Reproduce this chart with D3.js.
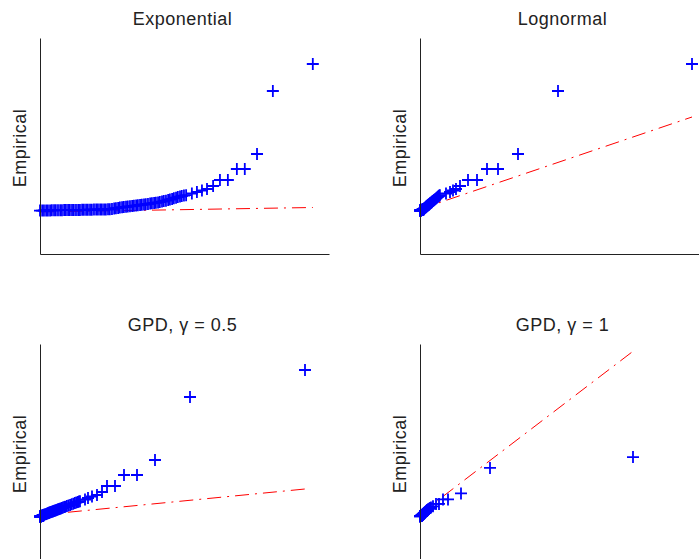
<!DOCTYPE html>
<html lang="en">
<head>
<meta charset="UTF-8">
<title>QQ plots</title>
<script src="https://d3js.org/d3.v7.min.js"></script>
<style>
    body { margin: 0; background: #fff; }
    svg { display: block; }
    .title, .ylabel {
        font-family: "Liberation Sans", Arial, sans-serif;
        font-size: 18px;
        letter-spacing: 0.5px;
        fill: #222;
    }
    .axis path { stroke: #222; }
</style>
</head>
<body>
<svg id="chart" width="699" height="559"></svg>
<script>
// sorted empirical sample (shared by all four panels)
const empirical = [
    0.04,0.04,0.05,0.05,0.06,0.06,0.07,0.07,0.07,0.08,0.08,0.08,0.09,0.09,0.09,0.10,0.10,0.10,
    0.11,0.11,0.11,0.12,0.12,0.12,0.13,0.13,0.13,0.14,0.14,0.14,0.15,0.15,0.16,0.16,0.17,0.17,
    0.21,0.24,0.28,0.31,0.35,0.37,0.40,0.42,0.44,0.47,0.49,0.52,0.55,0.57,0.60,0.62,0.65,0.68,
    0.71,0.74,0.77,0.80,0.82,0.86,0.90,0.94,0.99,1.03,1.09,1.15,1.21,1.27,1.33,1.39,1.44,1.50,
    1.54,1.58,
    1.75,1.90,2.05,2.20,2.50,3.10,3.10,4.20,4.20,5.70,12.0,14.7
];

// theoretical quantiles, one list per fitted distribution
const theoExponential = [
    0.00,0.06,0.11,0.17,0.22,0.28,0.33,0.39,0.44,0.50,0.56,0.61,0.67,0.72,0.78,0.83,0.89,0.94,
    1.00,1.06,1.11,1.17,1.22,1.28,1.33,1.39,1.44,1.50,1.56,1.61,1.67,1.72,1.78,1.83,1.89,1.94,
    2.00,2.06,2.11,2.17,2.22,2.28,2.33,2.39,2.44,2.50,2.56,2.61,2.67,2.72,2.78,2.83,2.89,2.94,
    3.00,3.06,3.11,3.17,3.22,3.28,3.33,3.39,3.44,3.50,3.56,3.61,3.67,3.72,3.78,3.83,3.89,3.94,
    4.00,4.06,
    4.22,4.36,4.50,4.64,4.81,5.00,5.22,5.47,5.69,6.03,6.47,7.58
];
const theoLognormal = [
    0.00,0.01,0.01,0.02,0.02,0.03,0.03,0.04,0.04,0.05,0.05,0.06,0.06,0.07,0.07,0.08,0.08,0.09,
    0.09,0.10,0.10,0.11,0.11,0.12,0.12,0.13,0.13,0.14,0.14,0.15,0.15,0.16,0.16,0.17,0.17,0.18,
    0.19,0.20,0.23,0.24,0.27,0.28,0.30,0.31,0.32,0.34,0.35,0.37,0.38,0.40,0.41,0.43,0.44,0.46,
    0.48,0.50,0.51,0.53,0.54,0.57,0.59,0.61,0.64,0.67,0.70,0.74,0.77,0.81,0.84,0.88,0.91,0.94,
    0.97,0.99,
    1.30,1.50,1.65,1.80,2.00,2.40,2.85,3.35,3.90,4.90,6.90,13.6
];
const theoGpdHalf = [
    0.00,0.01,0.02,0.03,0.04,0.05,0.06,0.07,0.08,0.09,0.10,0.11,0.12,0.13,0.14,0.15,0.16,0.17,
    0.18,0.19,0.20,0.21,0.22,0.23,0.24,0.25,0.26,0.27,0.28,0.29,0.30,0.31,0.32,0.33,0.34,0.35,
    0.36,0.43,0.54,0.62,0.72,0.78,0.86,0.91,0.96,1.04,1.10,1.18,1.26,1.31,1.39,1.44,1.52,1.60,
    1.68,1.76,1.84,1.92,1.98,2.08,2.19,2.30,2.43,2.53,2.69,2.85,3.01,3.17,3.33,3.49,3.63,3.79,
    3.89,4.00,
    4.50,4.80,5.20,5.70,6.20,6.70,7.50,8.40,9.70,11.5,15.0,26.5
];
const theoGpdOne = [
    0.00,0.02,0.04,0.06,0.09,0.11,0.13,0.15,0.17,0.19,0.21,0.24,0.26,0.28,0.30,0.32,0.34,0.36,
    0.39,0.41,0.43,0.45,0.47,0.49,0.51,0.54,0.56,0.58,0.60,0.62,0.64,0.66,0.69,0.71,0.73,0.75,
    0.85,0.91,1.00,1.06,1.15,1.19,1.25,1.29,1.34,1.40,1.44,1.51,1.57,1.61,1.68,1.72,1.78,1.84,
    1.91,1.97,2.04,2.10,2.14,2.23,2.31,2.40,2.50,2.59,2.71,2.84,2.97,3.09,3.22,3.35,3.45,3.58,
    3.67,3.75,
    4.00,4.50,5.00,5.50,6.50,8.00,9.50,11.5,14.0,20.5,35.0,106.5
];

// reference lines (theoretical, empirical) end points
const refExponential = [[0, -0.1], [7.58, 0.35]];
const refLognormal = [[0, 0.18], [13.6, 9.4]];
const refGpdHalf = [[0, 0.2], [26.5, 2.8]];
const refGpdOne = [[0, 0.6], [106.5, 40.9]];

const titles = ["Exponential", "Lognormal", "GPD, \u03b3 = 0.5", "GPD, \u03b3 = 1"];
const xMax = [8.03, 14.45, 28.9, 144.5];
const yLimits = [[-4.3, 17.3], [-4.3, 17.3], [-4.3, 17.3], [-10.8, 42.7]];

const panels = [
    { theo: theoExponential, ref: refExponential },
    { theo: theoLognormal, ref: refLognormal },
    { theo: theoGpdHalf, ref: refGpdHalf },
    { theo: theoGpdOne, ref: refGpdOne }
];

const svg = d3.select("#chart");
const lefts = [40, 420];
const tops = [38, 344];
const pw = 289, ph = 216;

panels.forEach((p, i) => {
    const g = svg.append("g")
        .attr("transform", `translate(${lefts[i % 2]},${tops[Math.floor(i / 2)]})`);

    const x = d3.scaleLinear().domain([0, xMax[i]]).range([0, pw]);
    const y = d3.scaleLinear().domain(yLimits[i]).range([ph, 0]);

    g.append("line")
        .attr("x1", x(p.ref[0][0])).attr("y1", y(p.ref[0][1]))
        .attr("x2", x(p.ref[1][0])).attr("y2", y(p.ref[1][1]))
        .attr("stroke", "#ff0000")
        .attr("stroke-width", 1)
        .attr("stroke-dasharray", "14,6,2,6");

    g.selectAll(".pt")
        .data(p.theo.map((t, k) => [t, empirical[k]]))
        .enter().append("path")
        .attr("class", "pt")
        .attr("transform", d => `translate(${x(d[0])},${y(d[1])})`)
        .attr("d", "M-6,0H6M0,-6V6")
        .attr("fill", "none")
        .attr("stroke", "#0000ff")
        .attr("stroke-width", 1.8);

    g.append("g")
        .attr("class", "axis")
        .call(d3.axisLeft(y).tickValues([]).tickSizeOuter(0));
    g.append("g")
        .attr("class", "axis")
        .attr("transform", `translate(0,${ph})`)
        .call(d3.axisBottom(x).tickValues([]).tickSizeOuter(0));

    g.append("text")
        .attr("class", "title")
        .attr("x", pw / 2 - 2)
        .attr("y", -13)
        .attr("text-anchor", "middle")
        .text(titles[i]);

    g.append("text")
        .attr("class", "ylabel")
        .attr("transform", `translate(-14,${ph / 2 + 2}) rotate(-90)`)
        .attr("text-anchor", "middle")
        .text("Empirical");
});
</script>
</body>
</html>
